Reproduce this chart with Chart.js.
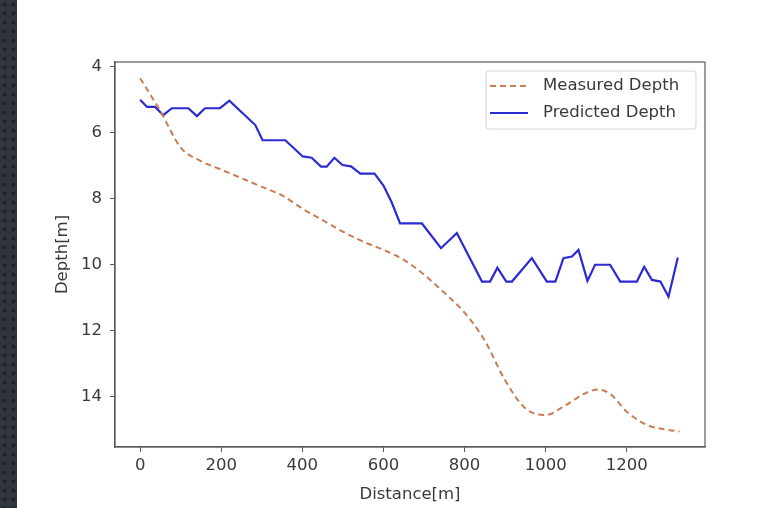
<!DOCTYPE html>
<html>
<head>
<meta charset="utf-8">
<script src="https://cdn.jsdelivr.net/npm/chart.js@4.4.1/dist/chart.umd.min.js"></script>
<style>
  html, body { margin: 0; padding: 0; background: #fff; }
  #wrap { position: relative; width: 771px; height: 508px; overflow: hidden; }
  #edge {
    position: absolute; left: 0; top: 0; width: 17px; height: 508px;
    background-color: #30343c;
    background-image: radial-gradient(circle, #1e2126 1.6px, transparent 2.2px);
    background-size: 9px 9px;
  }
  #chart { position: absolute; left: 0; top: 0; }
</style>
</head>
<body>
<div id="wrap">
  <canvas id="chart" width="771" height="508"></canvas>
  <div id="edge"></div>
</div>
<script>
// measured profile (smooth, dashed)
const measuredDist = [0, 50, 100, 150, 200, 250, 300, 350, 400, 450, 500, 550, 600, 650, 700, 750,
  800, 850, 900, 950, 1000, 1050, 1100, 1130, 1160, 1200, 1250, 1300, 1330];
const measuredDepth = [4.35, 5.35, 6.45, 6.86, 7.12, 7.38, 7.64, 7.9, 8.3, 8.65, 9.0, 9.3, 9.55, 9.85, 10.3, 10.85,
  11.45, 12.3, 13.5, 14.35, 14.55, 14.25, 13.88, 13.78, 13.92, 14.45, 14.85, 15.0, 15.05];

// predicted profile (jagged, solid)
const predictedDist = [0, 17, 37, 57, 78, 119, 140, 160, 197, 220, 284, 302, 358, 401, 423, 446, 460, 479,
  499, 520, 543, 578, 600, 620, 641, 695, 742, 781, 843, 863, 881, 903, 917, 966, 1003, 1024, 1044,
  1065, 1081, 1103, 1122, 1159, 1184, 1225, 1243, 1262, 1283, 1303, 1326];
const predictedDepth = [5.0, 5.22, 5.22, 5.47, 5.26, 5.26, 5.5, 5.26, 5.26, 5.03, 5.77, 6.23, 6.23, 6.72, 6.76, 7.03, 7.03, 6.76,
  6.98, 7.02, 7.24, 7.24, 7.6, 8.1, 8.75, 8.75, 9.5, 9.04, 10.51, 10.51, 10.09, 10.51, 10.51, 9.8, 10.51, 10.51, 9.8,
  9.75, 9.55, 10.49, 10.0, 10.0, 10.51, 10.51, 10.06, 10.46, 10.51, 10.97, 9.78];

const xTicks = [0, 200, 400, 600, 800, 1000, 1200];
const yTicks = [4, 6, 8, 10, 12, 14];

const FONT = "'DejaVu Sans', sans-serif";
const FONT_SIZE = 16.5;
const TEXT = "#3a3a3a";
const AXIS = "#5a5a5a";

const toPoints = (xs, ys) => xs.map((x, i) => ({ x: x, y: ys[i] }));

// top/right spines
const framePlugin = {
  id: "frame",
  afterDraw(chart) {
    const { ctx, chartArea: a } = chart;
    ctx.save();
    ctx.strokeStyle = AXIS;
    ctx.lineWidth = 1.2;
    ctx.strokeRect(a.left, a.top, a.right - a.left, a.bottom - a.top);
    ctx.restore();
  }
};

// legend box in the upper right corner of the plot
const legendPlugin = {
  id: "boxLegend",
  afterDraw(chart) {
    const { ctx, chartArea: a } = chart;
    const w = 210, h = 58;
    const x0 = a.right - 9 - w, y0 = a.top + 9;
    ctx.save();
    ctx.fillStyle = "rgba(255,255,255,0.85)";
    ctx.strokeStyle = "#d4d4d4";
    ctx.lineWidth = 1;
    ctx.beginPath();
    ctx.roundRect(x0, y0, w, h, 3);
    ctx.fill();
    ctx.stroke();
    ctx.font = FONT_SIZE + "px " + FONT;
    ctx.textBaseline = "middle";
    chart.data.datasets.forEach((ds, i) => {
      const y = y0 + 15 + i * 27;
      ctx.strokeStyle = ds.borderColor;
      ctx.lineWidth = ds.borderWidth;
      ctx.setLineDash(ds.borderDash || []);
      ctx.beginPath();
      ctx.moveTo(x0 + 4, y);
      ctx.lineTo(x0 + 42, y);
      ctx.stroke();
      ctx.setLineDash([]);
      ctx.fillStyle = TEXT;
      ctx.fillText(ds.label, x0 + 57, y);
    });
    ctx.restore();
  }
};

new Chart(document.getElementById("chart").getContext("2d"), {
  type: "line",
  data: {
    datasets: [
      {
        label: "Measured Depth",
        data: toPoints(measuredDist, measuredDepth),
        borderColor: "#c97d52",
        borderWidth: 2,
        borderDash: [6, 4],
        pointRadius: 0,
        cubicInterpolationMode: "monotone",
        fill: false
      },
      {
        label: "Predicted Depth",
        data: toPoints(predictedDist, predictedDepth),
        borderColor: "#2b2bd4",
        borderWidth: 2.2,
        pointRadius: 0,
        tension: 0,
        fill: false
      }
    ]
  },
  options: {
    responsive: false,
    animation: false,
    events: [],
    layout: { padding: { left: 53, top: 62, right: 66, bottom: 3 } },
    plugins: {
      legend: { display: false },
      tooltip: { enabled: false }
    },
    scales: {
      x: {
        type: "linear",
        min: -62,
        max: 1393,
        afterBuildTicks: (axis) => { axis.ticks = xTicks.map((v) => ({ value: v })); },
        afterFit: (axis) => { axis.height = 58; },
        grid: { drawOnChartArea: false, drawTicks: true, tickLength: 5, color: AXIS },
        border: { display: true, color: AXIS, width: 1.2 },
        ticks: {
          color: TEXT, font: { family: FONT, size: FONT_SIZE }, padding: 4, maxRotation: 0,
          callback: (v) => String(v)
        },
        title: { display: true, text: "Distance[m]", color: TEXT, font: { family: FONT, size: FONT_SIZE }, padding: { top: 0, bottom: 0 } }
      },
      y: {
        type: "linear",
        reverse: true,
        min: 3.86,
        max: 15.52,
        afterBuildTicks: (axis) => { axis.ticks = yTicks.map((v) => ({ value: v })); },
        afterFit: (axis) => { axis.width = 62; },
        grid: { drawOnChartArea: false, drawTicks: true, tickLength: 5, color: AXIS },
        border: { display: true, color: AXIS, width: 1.2 },
        ticks: { color: TEXT, font: { family: FONT, size: FONT_SIZE }, padding: 8 },
        title: { display: true, text: "Depth[m]", color: TEXT, font: { family: FONT, size: FONT_SIZE }, padding: { top: 0, bottom: 0 } }
      }
    }
  },
  plugins: [framePlugin, legendPlugin]
});
</script>
</body>
</html>
